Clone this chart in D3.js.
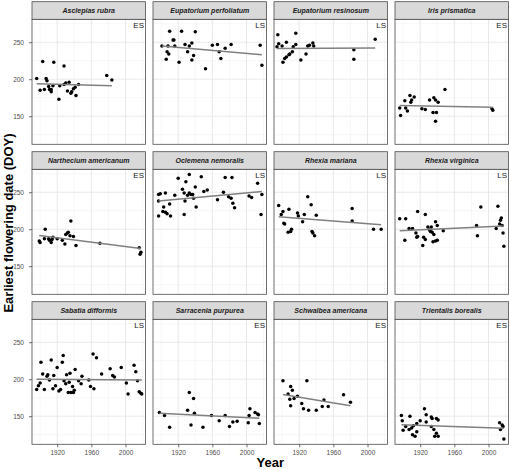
<!DOCTYPE html>
<html>
<head>
<meta charset="utf-8">
<script src="https://cdn.jsdelivr.net/npm/d3@7"></script>
<style>
  html, body { margin: 0; padding: 0; background: #fff; }
  svg { display: block; font-family: "Liberation Sans", Arial, Helvetica, sans-serif; }
</style>
</head>
<body>
<svg id="chart" width="510" height="470"></svg>
<script>
// ---------------- data ----------------
const species = [
  "Asclepias rubra", "Eupatorium perfoliatum", "Eupatorium resinosum", "Iris prismatica",
  "Narthecium americanum", "Oclemena nemoralis", "Rhexia mariana", "Rhexia virginica",
  "Sabatia difformis", "Sarracenia purpurea", "Schwalbea americana", "Trientalis borealis"
];
const season = ["ES", "LS", "LS", "ES", "ES", "LS", "LS", "LS", "LS", "ES", "ES", "ES"];

const years = [
  [1896,1903,1916,1928,1907,1908,1900,1905,1910,1911,1913,1913,1915,1922,1923,1930,1932,1934,1936,1937,1939,1941,1942,1945,1978,1984,1928],
  [1910,1924,1940,1914,1915,1901,1908,1916,1928,1933,1936,1907,1909,1931,1938,1906,1921,1936,1952,1960,1966,1968,1970,1975,1982,2016,2018],
  [1895,1916,1896,1894,1900,1905,1913,1916,1912,1909,1908,1905,1903,1901,1922,1928,1930,1932,1936,1937,1984,1984,2009],
  [1949,1908,1913,1910,1902,1909,1931,1936,1938,1941,1896,1903,1905,1922,1926,1935,1939,1897,1938,2004,2005],
  [1899,1900,1906,1905,1910,1911,1913,1914,1915,1920,1926,1929,1930,1932,1933,1935,1936,1939,1942,1970,2016,2018,2017],
  [1920,1933,1947,1929,1975,1983,2013,1940,1925,1897,1899,1905,1916,1933,1935,1937,1931,1927,1950,1954,1973,1979,1982,2003,2006,2018,1897,1910,1938,1928,1966,1984,1986,1903,1941,1902,1905,1907,1911,1897,1927,2017],
  [1896,1901,1899,1908,1930,1934,1918,1919,1926,1940,1924,1902,1903,1907,1911,1910,1935,1936,1938,1982,1982,2007,2016],
  [1896,1903,1917,1926,1991,2011,2015,2014,2013,2016,2009,2017,2018,1986,1987,1907,1911,1902,1915,1917,1916,1924,1926,1923,1929,1933,1931,1938,1940,1934,1936,1935,1938,1940,1947,1932],
  [1896,1898,1900,1901,1903,1905,1908,1909,1911,1913,1915,1916,1918,1920,1922,1924,1926,1927,1928,1930,1931,1933,1934,1935,1936,1938,1939,1940,1941,1945,1948,1949,1957,1959,1962,1963,1966,1972,1982,1985,1987,1995,2001,2003,2010,2012,2014,2016,2018,2019],
  [1898,1904,1910,1931,1933,1938,1939,1935,1949,1959,1968,1975,1980,1984,1989,2002,2003,2004,2010,2013,2014,2015],
  [1901,1910,1912,1907,1909,1914,1918,1910,1923,1925,1929,1931,1940,1947,1949,1954,1972,1980],
  [1898,1899,1900,1903,1907,1908,1910,1911,1912,1914,1916,1916,1920,1925,1927,1927,1933,1934,1933,1936,1939,1941,1939,1937,1941,2013,2016,2017,2014,2018]
];
const doy = [
  [201,224,223,218,201,198,185,186,190,186,183,186,191,173,191,195,184,196,181,183,187,189,178,193,205,199,193],
  [265,265,264,253,253,245,245,245,247,245,249,237,234,237,232,227,223,226,214,246,247,237,228,242,247,246,219],
  [260,262,248,244,245,250,244,247,237,234,233,230,228,223,226,234,245,246,249,245,240,227,254],
  [186,178,176,172,171,169,172,175,172,169,161,161,157,160,159,155,155,151,143,160,158],
  [184,182,200,187,187,185,182,186,189,187,185,180,193,195,196,191,211,190,178,181,175,169,166],
  [269,274,271,264,270,270,262,257,254,247,248,249,246,249,247,247,246,249,251,253,250,244,242,245,243,247,238,234,242,238,240,235,229,230,230,224,223,221,218,218,220,220],
  [232,224,220,227,244,233,222,218,220,219,210,208,207,196,200,197,197,195,191,228,211,200,200],
  [214,214,224,220,230,231,215,212,207,205,201,195,177,205,191,201,201,185,195,190,189,189,186,178,203,203,199,210,205,196,193,183,184,185,198,197],
  [186,191,195,223,207,186,204,206,199,226,187,205,191,216,184,186,223,232,198,194,206,182,196,208,182,190,182,185,213,198,194,204,199,190,234,187,229,207,214,205,203,216,195,180,219,210,198,183,181,180],
  [155,151,135,158,182,174,154,138,135,151,144,151,136,142,143,141,151,160,155,153,152,140],
  [198,190,185,180,173,174,177,164,167,160,198,158,158,163,172,163,179,169],
  [151,144,131,136,132,150,134,125,137,123,129,140,144,160,152,142,149,147,136,132,147,145,127,123,123,141,138,136,132,119]
];
// fitted trend value at the first and last year of each series
const trendStart = [194, 245, 241.5, 164.4, 191.4, 238.3, 217, 198, 200, 154, 179.3, 138.3];
const trendEnd   = [191, 233, 242.3, 162.2, 174, 251, 206, 204.5, 199, 147.3, 164, 133.8];

const xMajor = [1920, 1960, 2000];
const xMinor = [1900, 1940, 1980, 2020];
const yMajor = [150, 200, 250];
const yMinor = [125, 175, 225, 275];

// ---------------- layout ----------------
const svg = d3.select("#chart");
const left0 = 32, panelW = 113.5, colStride = 121;
const top0 = 1.7, stripH = 17.6, panelH = 125, rowStride = 150;

const x = d3.scaleLinear().domain([1890.5, 2023.4]).range([0, panelW]);
const y = d3.scaleLinear().domain([112, 281]).range([panelH, 0]);

species.forEach((name, i) => {
  const col = i % 4, row = Math.floor(i / 4);
  const px = left0 + col * colStride;
  const sy = top0 + row * rowStride;
  const py = sy + stripH;
  const g = svg.append("g").attr("transform", `translate(${px},${py})`);

  // panel background
  g.append("rect").attr("width", panelW).attr("height", panelH).attr("fill", "#fff");
  // minor grid
  g.selectAll(".gxm").data(xMinor).enter().append("line")
    .attr("x1", d => x(d)).attr("x2", d => x(d)).attr("y1", 0).attr("y2", panelH)
    .attr("stroke", "#ececec").attr("stroke-width", 0.45);
  g.selectAll(".gym").data(yMinor).enter().append("line")
    .attr("y1", d => y(d)).attr("y2", d => y(d)).attr("x1", 0).attr("x2", panelW)
    .attr("stroke", "#ececec").attr("stroke-width", 0.45);
  // major grid
  g.selectAll(".gx").data(xMajor).enter().append("line")
    .attr("x1", d => x(d)).attr("x2", d => x(d)).attr("y1", 0).attr("y2", panelH)
    .attr("stroke", "#e6e6e6").attr("stroke-width", 0.9);
  g.selectAll(".gy").data(yMajor).enter().append("line")
    .attr("y1", d => y(d)).attr("y2", d => y(d)).attr("x1", 0).attr("x2", panelW)
    .attr("stroke", "#e6e6e6").attr("stroke-width", 0.9);

  // points
  const pts = years[i].map((yr, k) => [yr, doy[i][k]]);
  g.selectAll("circle").data(pts).enter().append("circle")
    .attr("cx", d => x(d[0])).attr("cy", d => y(d[1])).attr("r", 1.75)
    .attr("fill", "#000");

  // trend line
  const x0 = d3.min(years[i]), x1 = d3.max(years[i]);
  g.append("line")
    .attr("x1", x(x0)).attr("y1", y(trendStart[i]))
    .attr("x2", x(x1)).attr("y2", y(trendEnd[i]))
    .attr("stroke", "#808080").attr("stroke-width", 1.5);

  // season label
  g.append("text").attr("x", panelW - 1.5).attr("y", 8.6)
    .attr("text-anchor", "end").attr("font-size", 8).attr("fill", "#222")
    .text(season[i]);

  // panel border
  g.append("rect").attr("width", panelW).attr("height", panelH)
    .attr("fill", "none").attr("stroke", "#4d4d4d").attr("stroke-width", 0.8);

  // strip
  const s = svg.append("g").attr("transform", `translate(${px},${sy})`);
  s.append("rect").attr("width", panelW).attr("height", stripH)
    .attr("fill", "#d9d9d9").attr("stroke", "#4d4d4d").attr("stroke-width", 0.8);
  s.append("text").attr("x", panelW / 2).attr("y", stripH / 2 + 2.4)
    .attr("text-anchor", "middle").attr("font-size", 7).attr("font-weight", "bold")
    .attr("font-style", "italic").attr("fill", "#1a1a1a").text(name);

  // axes
  if (col === 0) {
    const ay = g.append("g").call(d3.axisLeft(y).tickValues(yMajor).tickSize(3).tickPadding(5));
    ay.select(".domain").remove();
    ay.selectAll("line").attr("stroke", "#333").attr("stroke-width", 0.7);
    ay.selectAll("text").attr("font-size", 6.5).attr("fill", "#4d4d4d")
      .attr("font-family", "'Liberation Sans', Arial, sans-serif");
  }
  if (row === 2) {
    const ax = g.append("g").attr("transform", `translate(0,${panelH})`)
      .call(d3.axisBottom(x).tickValues(xMajor).tickFormat(d3.format("d")).tickSize(3).tickPadding(3));
    ax.select(".domain").remove();
    ax.selectAll("line").attr("stroke", "#333").attr("stroke-width", 0.7);
    ax.selectAll("text").attr("font-size", 6.5).attr("fill", "#4d4d4d")
      .attr("font-family", "'Liberation Sans', Arial, sans-serif");
  }
});

// axis titles
const plotLeft = left0, plotRight = left0 + 3 * colStride + panelW;
const plotTop = top0, plotBottom = top0 + 2 * rowStride + stripH + panelH;
svg.append("text")
  .attr("transform", `translate(13,${(plotTop + plotBottom) / 2}) rotate(-90)`)
  .attr("text-anchor", "middle").attr("font-size", 13).attr("font-weight", "bold")
  .attr("fill", "#000").text("Earliest flowering date (DOY)");
svg.append("text")
  .attr("x", (plotLeft + plotRight) / 2).attr("y", 467)
  .attr("text-anchor", "middle").attr("font-size", 13).attr("font-weight", "bold")
  .attr("fill", "#000").text("Year");
</script>
</body>
</html>
